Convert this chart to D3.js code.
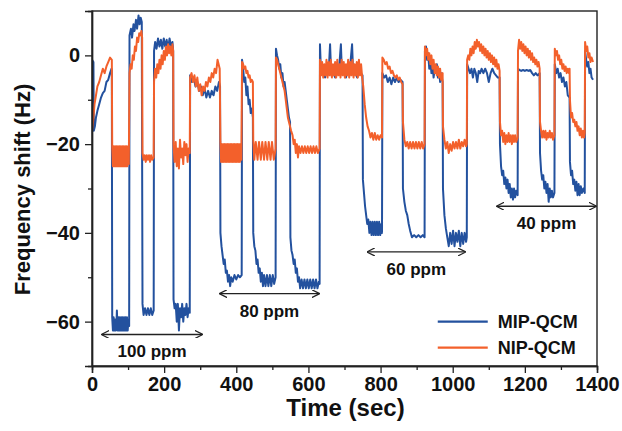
<!DOCTYPE html>
<html>
<head>
<meta charset="utf-8">
<script src="https://cdn.jsdelivr.net/npm/d3@7"></script>
<style>
  body { margin: 0; background: #fff; }
  text { font-family: "Liberation Sans", Arial, sans-serif; font-weight: bold; fill: #111; }
</style>
</head>
<body>
<div id="chart"></div>
<script>
// ---- data (time in sec, frequency shift in Hz) ----
const mipShift = [
  [0,-1],[4,-1.5],[5,-17],[8,-16],[11,-14],[15,-12.5],[20,-11],[25,-9.5],[30,-8.5],[35,-8],[40,-6],[45,-5.5],[50,-4],[54,-3],[55,-3.5],
  [56,-59],[58,-62],[60,-59],[62,-62],[64,-59.5],[66,-62],[68,-60],[69,-57.5],[71,-62],[73,-59],[75,-62],[77,-59],[79,-62],[81,-59],[83,-62],[85,-59],[87,-62],[89,-59],[91,-62],[93,-59],[95,-62],[97,-59],[99,-62],[101,-59.5],[103,-61],
  [104,4.5],[108,6],[111,4],[115,7],[118,5.5],[122,8],[125,6],[129,9],[132,7],[135,8.5],[138,7.5],
  [140,-56],[143,-58.5],[147,-57],[151,-58.5],[155,-57],[159,-58.5],[163,-57],[167,-58.5],[171,-57.5],
  [172,1],[175,3],[179,1.5],[183,3.8],[187,2],[191,3.5],[195,1.5],[199,3.8],[203,2],[207,3.5],[211,1.5],[215,3.8],[219,2],[223,3],[225,1],
  [226,-55],[229,-57],[232,-56],[235,-60],[238,-56],[241,-62],[244,-57],[247,-59],[250,-56],[253,-60],[256,-57],[259,-58.5],[262,-56],[265,-59],[268,-57],[271,-58],
  [272,-4.5],[277,-6],[282,-5],[287,-7],[292,-6],[297,-8],[302,-7],[307,-9],[312,-7.5],[317,-9.5],[322,-8],[327,-9.5],[332,-8],[337,-9],[342,-7],[347,-8],[352,-6],[355,-7],
  [356,-40],[359,-43],[362,-45],[365,-47],[368,-46],[371,-49],[374,-48.5],[377,-51],[380,-49.5],[383,-52],[386,-50],[390,-51],[395,-49.5],[400,-50.5],[405,-49.5],[410,-50],[415,-49.5],
  [416,-1],[419,-3],[422,-6],[425,-5],[428,-9],[431,-7],[434,-11],[437,-10],[440,-13],[443,-12],[446,-14],
  [447,-40],[450,-43],[453,-44],[456,-47],[459,-46],[462,-49],[465,-48],[468,-51],[471,-49],[474,-52],[477,-49.5],[481,-52],[485,-49.5],[489,-52],[493,-49.5],[497,-52],[501,-49.5],[505,-51.5],[509,-50],
  [510,1.5],[513,0],[516,-1],[519,-3],[522,-2],[525,-5],[528,-4],[531,-7],[534,-6],[537,-8],[540,-10],[543,-12],[546,-14],[549,-15],
  [550,-41],[553,-44],[556,-45],[559,-47],[562,-46],[565,-49],[568,-48],[571,-51],[574,-50],[577,-52.5],[581,-50.5],[585,-52.5],[589,-50.5],[593,-52.5],[597,-50.5],[601,-52.5],[605,-50.5],[609,-52.5],[613,-50.5],[617,-52.5],[621,-50.5],[625,-52.5],[629,-51],[631,-51.5],
  [632,2.5],[634,-2],[638,-3],[642,-4],[646,-5],[650,-3.5],[656,-4],[660,2.5],[662,-2],[666,-3],[670,-4],[674,-5],[678,-3.5],[684,-4],[690,2.5],[692,-2],[696,-3],[700,-4],[704,-5],[708,-3.5],[714,-4],[721,2.5],[723,-2],[727,-3],[731,-4],[735,-5],[739,-3.5],[745,-4],[750,-4.5],
  [751,-28],[754,-31],[757,-34],[760,-36],[763,-38],[766,-37],[769,-40],[772,-37.5],[775,-40.5],[778,-37.5],[781,-40.5],[784,-37.5],[787,-40.5],[790,-37.5],[793,-40.5],[796,-37.5],[799,-40.5],[802,-38],[804,-40],
  [805,-4],[810,-5],[815,-4.5],[820,-6],[825,-5],[830,-6.5],[835,-5],[840,-6],[845,-5],[850,-6],[855,-5.5],[861,-6],
  [862,-30],[866,-33],[870,-35],[874,-36],[878,-38],[882,-39.5],[887,-41],[893,-40.5],[899,-41],[905,-40.5],[911,-41],[917,-40.5],[922,-41],
  [923,1],[926,2],[929,-1],[932,0.5],[935,-3],[938,-1],[941,-4],[944,-2],[947,-5],[950,-3],[953,-4],[956,-2],[959,-5],[962,-3],[965,-6],[968,-4],[972,-6],
  [973,-30],[977,-36],[981,-39],[985,-41],[989,-43],[993,-40],[997,-42.5],[1001,-39.5],[1005,-43],[1009,-40],[1013,-42],[1017,-39.5],[1021,-43],[1025,-40],[1029,-42.5],[1033,-40],[1037,-42],[1039,-41],
  [1040,-2],[1044,-3],[1048,-4],[1052,-3],[1056,-5],[1060,-3],[1064,-4],[1068,-6],[1072,-3.5],[1076,-4],[1080,-3],[1085,-4],[1090,-3],[1095,-4],[1100,-6],[1105,-4],[1110,-3],[1115,-4],[1120,-4.5],[1125,-5],[1130,-5],
  [1131,-20],[1134,-25],[1137,-27],[1140,-26],[1143,-29],[1146,-27.5],[1149,-30],[1152,-28],[1155,-31],[1158,-29],[1161,-32],[1164,-30],[1167,-32.5],[1170,-30],[1173,-32],[1176,-30.5],[1180,-31.5],
  [1181,-3],[1185,-3.3],[1190,-3.5],[1195,-3.3],[1200,-3.5],[1205,-3.3],[1210,-3.5],[1215,-3.3],[1220,-4],[1225,-4.5],[1230,-4],[1235,-4.5],[1241,-4],
  [1242,-22],[1245,-26],[1248,-28],[1251,-27],[1254,-30],[1257,-28.5],[1260,-31],[1263,-29],[1266,-33],[1269,-30],[1272,-32],[1275,-30.5],[1278,-32],[1282,-31],
  [1283,-2],[1287,-4],[1291,-3],[1295,-5],[1299,-4],[1303,-6],[1307,-5],[1311,-7],[1315,-6],[1319,-9],[1324,-9.5],
  [1325,-24],[1328,-27],[1331,-26],[1334,-29],[1337,-28],[1340,-30.5],[1343,-28.5],[1346,-31.5],[1349,-29],[1352,-31.5],[1355,-29.5],[1358,-31],[1362,-30],[1366,-31],
  [1367,1],[1370,-1],[1373,-2.5],[1376,-1.5],[1379,-4],[1382,-3],[1385,-5],[1389,-5.5]
];

const nipShift = [
  [0,-17],[3,-15],[7,-11],[11,-9],[15,-7],[20,-6],[25,-4.5],[30,-3],[35,-4],[40,-2.5],[45,-1.5],[50,-0.5],[55,-1],
  [56,-20.5],[58,-25],[60,-20.5],[62,-25],[64,-20.5],[66,-25],[68,-20.5],[70,-25],[72,-20.5],[74,-25],[76,-20.5],[78,-25],[80,-20.5],[82,-25],[84,-20.5],[86,-25],[88,-20.5],[90,-25],[92,-20.5],[94,-25],[96,-20.5],[98,-25],[100,-20.5],[102,-24.5],
  [104,-4],[107,-2],[110,-3],[113,0],[116,-1],[119,2],[122,1],[125,4],[128,3],[131,5],[134,4.5],[137,5.5],[139,4],
  [140,-22],[143,-23.5],[146,-22.5],[149,-24],[152,-22.5],[155,-23.5],[158,-22.5],[161,-24],[164,-22.5],[167,-23.5],[171,-23],
  [172,-6],[175,-3],[178,-5],[181,-2],[184,-4],[187,-1],[190,-3],[193,0],[196,-2],[199,1],[202,-1],[205,2],[208,0],[211,2.5],[214,0.5],[217,2],[220,0],[223,2.5],[225,1],
  [226,-20],[229,-24],[232,-19.5],[235,-25],[238,-21],[241,-25.5],[244,-19],[247,-23],[250,-21],[253,-24.5],[256,-19.5],[259,-22.5],[262,-20],[265,-24],[268,-21],[271,-22],
  [272,-5],[276,-4],[280,-6],[284,-4.5],[288,-7],[292,-5],[296,-8],[300,-6.5],[304,-9],[308,-7],[312,-8],[316,-6],[320,-7],[324,-5],[328,-6],[332,-4],[336,-5],[340,-3],[344,-4],[348,-1],[351,-2],[354,-3],
  [356,-19.5],[358,-24],[360,-20],[362,-24],[364,-20],[366,-24],[368,-20],[370,-24],[372,-20],[374,-24],[376,-20],[378,-24],[380,-20],[382,-24],[384,-20],[386,-24],[388,-20],[390,-24],[392,-20],[394,-24],[396,-20],[398,-24],[400,-20],[402,-24],[404,-20],[406,-24],[408,-20],[410,-24],[412,-20],[414,-23.5],
  [416,-1.5],[419,-2],[422,-3],[425,-2.5],[428,-4],[431,-3.5],[434,-5],[437,-4.5],[440,-6],[443,-5.5],[446,-6],
  [447,-19],[450,-23.5],[454,-19.5],[459,-23.5],[463,-19.5],[468,-23.5],[472,-19.5],[477,-23.5],[481,-19.5],[486,-23.5],[490,-19.5],[495,-23.5],[499,-19.5],[504,-23.5],[509,-21],
  [510,-0.5],[513,-1],[516,-2],[519,-3],[522,-4],[525,-5],[528,-6],[531,-7],[534,-8],[537,-10],[540,-12],[543,-14],[546,-15],[549,-16],
  [552,-17],[556,-18],[559,-20],[562,-19],[565,-22],[568,-20],[571,-23],[574,-20.5],[578,-22],[582,-20.5],[586,-22],[590,-20.5],[594,-22],[598,-20.5],[602,-22],[606,-20.5],[610,-22],[614,-20.5],[618,-22],[622,-20.5],[626,-22],[631,-21],
  [632,-1],[635,-4.5],[638,-1.5],[641,-5],[644,-2],[647,-4.5],[650,-1],[653,-5],[656,-1.5],[659,-4.5],[662,-1],[665,-5],[668,-2],[671,-4.5],[674,-1.5],[677,-5],[680,-1],[683,-4.5],[686,-2],[689,-5],[692,-1],[695,-4.5],[698,-1.5],[701,-5],[704,-2],[707,-4.5],[710,-1],[713,-5],[716,-1.5],[719,-4.5],[722,-1],[725,-5],[728,-2],[731,-4.5],[734,-1.5],[737,-5],[740,-1],[743,-4.5],[746,-2],[749,-5],
  [752,-7],[756,-11],[760,-14],[764,-16],[768,-17],[772,-18.5],[776,-17.5],[780,-19],[784,-17.5],[788,-19],[792,-18],[796,-19],[800,-18],[804,-18.5],
  [805,-0.5],[809,-1],[813,-2],[817,-1.5],[821,-3],[825,-2.5],[829,-4],[833,-3.5],[837,-4.5],[841,-5],[845,-4.5],[849,-5.5],[853,-5],[857,-6],[861,-6.5],
  [862,-15],[866,-19],[870,-20.5],[874,-19.5],[878,-21],[882,-19.5],[886,-21],[890,-19.5],[894,-21],[898,-19.5],[902,-21],[906,-19.5],[910,-21],[914,-19.5],[918,-21],[922,-20],
  [923,2],[926,0],[929,1.5],[932,-1],[935,0.5],[938,-2],[941,0],[944,-3],[947,-1],[950,-4],[953,-2],[956,-4.5],[959,-2.5],[962,-5],[965,-3],[968,-5.5],[972,-4],
  [973,-16],[977,-19],[981,-21],[985,-19.5],[989,-22],[993,-20],[997,-21.5],[1001,-19.5],[1005,-21],[1009,-19.5],[1013,-21],[1017,-19],[1021,-21],[1025,-19.5],[1029,-20.5],[1033,-19],[1037,-20.5],[1039,-20],
  [1040,-1],[1043,0],[1046,-1],[1049,1.5],[1052,0],[1055,2],[1058,0.5],[1061,3],[1064,1.5],[1067,3.5],[1070,2],[1073,3],[1076,1],[1079,2.5],[1082,0.5],[1085,2],[1088,0],[1091,1.5],[1094,-0.5],[1097,1],[1100,-1],[1103,0.5],[1106,-1.5],[1109,0],[1112,-2],[1115,-0.5],[1118,-2.5],[1121,-1],[1124,-3],[1127,-2],[1130,-3.5],
  [1131,-15],[1134,-18],[1137,-17],[1140,-19.5],[1143,-17.5],[1146,-20],[1149,-18],[1152,-19.5],[1155,-17.5],[1158,-19.5],[1161,-18],[1164,-20],[1167,-18],[1170,-19.5],[1173,-18],[1176,-19.5],[1180,-18.5],
  [1181,1],[1184,3.5],[1187,1.5],[1190,3],[1193,1],[1196,2.5],[1199,0.5],[1202,2],[1205,0],[1208,1.5],[1211,-0.5],[1214,1],[1217,-1],[1220,0.5],[1223,-1.5],[1226,-0.5],[1229,-2],[1232,-1],[1235,-2.5],[1238,-1.5],[1241,-3],
  [1242,-15],[1245,-17],[1248,-18.5],[1251,-17],[1254,-18.5],[1257,-17],[1260,-19],[1263,-17.5],[1266,-18.5],[1269,-17],[1272,-18.5],[1275,-17.5],[1278,-19],[1282,-18],
  [1283,1.5],[1286,0],[1289,1],[1292,-1],[1295,0],[1298,-2],[1301,-1],[1304,-3],[1307,-2],[1310,-3.5],[1313,-2.5],[1316,-4],[1319,-3],[1322,-4],[1324,-3],
  [1325,-10],[1328,-14],[1331,-13],[1334,-15],[1337,-14.5],[1340,-16],[1343,-15],[1346,-17],[1349,-16],[1352,-18],[1355,-16.5],[1358,-18.5],[1361,-17],[1364,-18.5],[1366,-17.5],
  [1367,3],[1370,1],[1373,2],[1376,-0.5],[1379,0.5],[1382,-1.5],[1385,-0.5],[1389,-1.5]
];

const seriesNames = ["MIP-QCM", "NIP-QCM"];
const seriesColors = ["#23519e", "#f3602b"];

const xTicks = [0, 200, 400, 600, 800, 1000, 1200, 1400];
const xMinorTicks = [100, 300, 500, 700, 900, 1100, 1300];
const yTicks = [0, -20, -40, -60];
const yMinorTicks = [-10, -30, -50];

// concentration ranges
const ppmLabels = ["100 ppm", "80 ppm", "60 ppm", "40 ppm"];
const ppmStart = [28, 355, 764, 1123];
const ppmEnd = [305, 629, 1034, 1397];
const ppmLevel = [-62.9, -53.7, -44.3, -34];

// ---- layout ----
const W = 622, H = 431;
const margin = { top: 11, right: 25, bottom: 65, left: 92 };
const width = W - margin.left - margin.right,
      height = H - margin.top - margin.bottom;

const svg = d3.select("#chart").append("svg")
    .attr("width", W).attr("height", H)
  .append("g")
    .attr("transform", `translate(${margin.left},${margin.top})`);

const x = d3.scaleLinear().domain([0, 1400]).range([0, width]);
const y = d3.scaleLinear().domain([-70, 10]).range([height, 0]);

svg.append("clipPath").attr("id", "plot-clip")
  .append("rect").attr("width", width).attr("height", height);

const line = d3.line().x(d => x(d[0])).y(d => y(d[1]));

const plot = svg.append("g").attr("clip-path", "url(#plot-clip)");
[mipShift, nipShift].forEach((s, i) => {
  plot.append("path")
      .datum(s)
      .attr("d", line)
      .attr("fill", "none")
      .attr("stroke", seriesColors[i])
      .attr("stroke-width", 2)
      .attr("stroke-linejoin", "round");
});

// frame
svg.append("rect")
    .attr("width", width).attr("height", height)
    .attr("fill", "none").attr("stroke", "#222").attr("stroke-width", 1.4);

// axes
svg.append("g").attr("transform", `translate(0,${height})`)
    .call(d3.axisBottom(x).tickValues(xTicks).tickSize(7).tickPadding(4).tickFormat(d3.format("d")));
svg.append("g").attr("transform", `translate(0,${height})`)
    .call(d3.axisBottom(x).tickValues(xMinorTicks).tickSize(4).tickFormat(""));
svg.append("g")
    .call(d3.axisLeft(y).tickValues(yTicks).tickSize(7).tickPadding(5));
svg.append("g")
    .call(d3.axisLeft(y).tickValues(yMinorTicks).tickSize(4).tickFormat(""));

svg.selectAll(".domain").attr("stroke", "#222").attr("stroke-width", 1.4);
svg.selectAll(".tick line").attr("stroke", "#222").attr("stroke-width", 1.3);
svg.selectAll(".tick text").style("font-size", "20px").style("font-weight", "bold").attr("fill", "#111");

svg.append("text")
    .attr("x", width / 2 + 1).attr("y", height + 50)
    .attr("text-anchor", "middle")
    .style("font-size", "24px")
    .text("Time (sec)");

svg.append("text")
    .attr("transform", `translate(${-62},${height / 2 + 1}) rotate(-90)`)
    .attr("text-anchor", "middle")
    .style("font-size", "22px")
    .text("Frequency shift (Hz)");

// concentration arrows
const defs = svg.append("defs");
["start", "end"].forEach(k => {
  defs.append("marker")
      .attr("id", "arrow-" + k)
      .attr("viewBox", "0 0 10 10")
      .attr("refX", 9).attr("refY", 5)
      .attr("markerWidth", 8).attr("markerHeight", 8)
      .attr("markerUnits", "userSpaceOnUse")
      .attr("orient", "auto-start-reverse")
    .append("path")
      .attr("d", "M0,0 L10,5 L0,10")
      .attr("fill", "none").attr("stroke", "#222").attr("stroke-width", 1.6);
});

ppmLabels.forEach((lab, i) => {
  svg.append("line")
      .attr("x1", x(ppmStart[i])).attr("x2", x(ppmEnd[i]))
      .attr("y1", y(ppmLevel[i])).attr("y2", y(ppmLevel[i]))
      .attr("stroke", "#222").attr("stroke-width", 1.3)
      .attr("marker-start", "url(#arrow-start)")
      .attr("marker-end", "url(#arrow-end)");
  svg.append("text")
      .attr("x", x((ppmStart[i] + ppmEnd[i]) / 2))
      .attr("y", y(ppmLevel[i]) + 23)
      .attr("text-anchor", "middle")
      .style("font-size", "17px")
      .text(lab);
});

// legend
const legend = svg.append("g").attr("transform", `translate(${x(1050)},${y(-60)})`);
seriesNames.forEach((name, i) => {
  const g = legend.append("g").attr("transform", `translate(0,${i * 26})`);
  g.append("line").attr("x1", -33).attr("x2", 17)
      .attr("stroke", seriesColors[i]).attr("stroke-width", 2.2);
  g.append("text").attr("x", 27).attr("dy", "0.35em")
      .style("font-size", "18px").text(name);
});
</script>
</body>
</html>
